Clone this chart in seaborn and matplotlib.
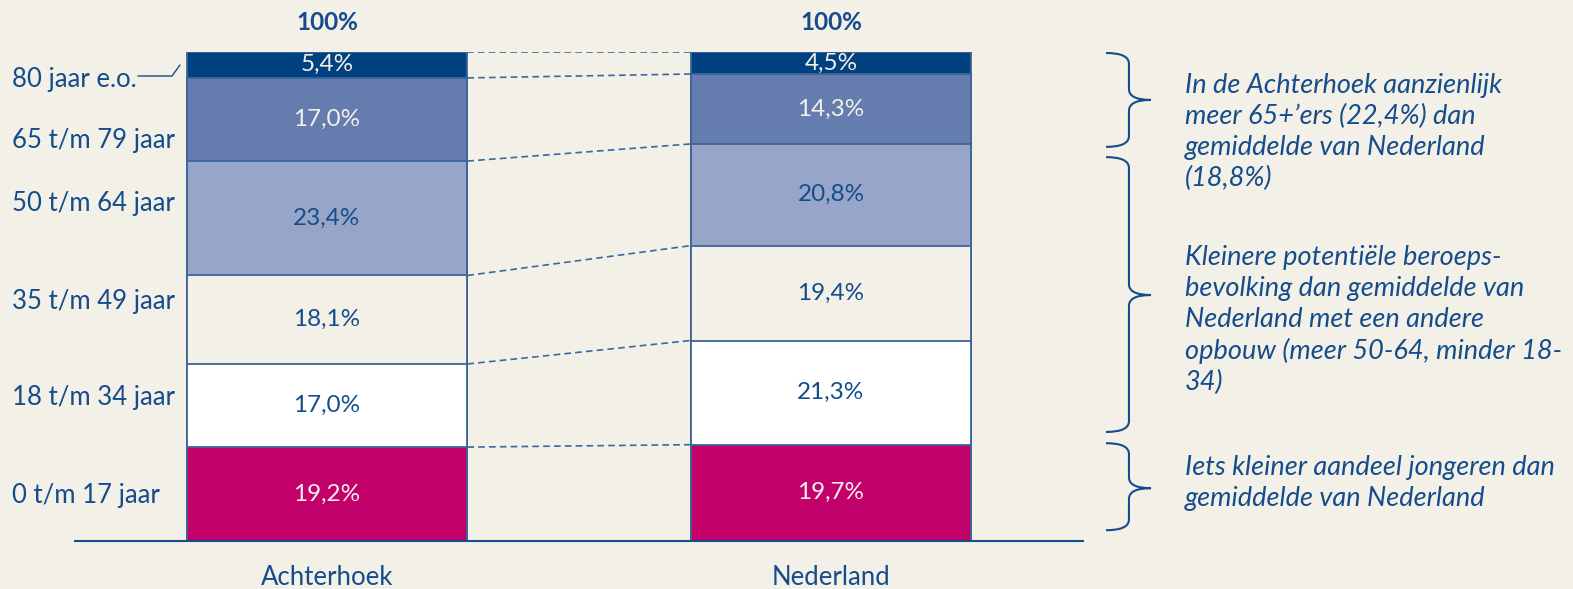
import matplotlib
matplotlib.use("Agg")
import matplotlib.pyplot as plt
import matplotlib.transforms as mtransforms
from matplotlib.path import Path
from matplotlib.patches import PathPatch
from matplotlib.lines import Line2D
import seaborn as sns

# --- data ---
regions = ["Achterhoek", "Nederland"]
age_groups = ["0 t/m 17 jaar", "18 t/m 34 jaar", "35 t/m 49 jaar",
              "50 t/m 64 jaar", "65 t/m 79 jaar", "80 jaar e.o."]
achterhoek = [19.2, 17.0, 18.1, 23.4, 17.0, 5.4]
nederland = [19.7, 21.3, 19.4, 20.8, 14.3, 4.5]
totals = ["100%", "100%"]
notes = [
    "In de Achterhoek aanzienlijk\nmeer 65+\u2019ers (22,4%) dan\ngemiddelde van Nederland\n(18,8%)",
    "Kleinere potenti\u00eble beroeps-\nbevolking dan gemiddelde van\nNederland met een andere\nopbouw (meer 50-64, minder 18-\n34)",
    "Iets kleiner aandeel jongeren dan\ngemiddelde van Nederland",
]

# --- style ---
BG = "#f3f0e8"
BLUE = "#154c8b"
EDGE = "#3d6499"
seg_colors = ["#c2006a", "#ffffff", BG, "#96a5c8", "#647dae", "#00427f"]
val_colors = ["#f8eef2", BLUE, BLUE, BLUE, "#f3f0e8", "#f3f0e8"]
FONT = ["Lato", "DejaVu Sans"]

sns.set_theme(style="white")
plt.rcParams["font.family"] = FONT

W, H = 1573, 589
fig = plt.figure(figsize=(W / 100, H / 100), dpi=100, facecolor=BG)
ax = fig.add_axes([75 / W, (H - 541) / H, 1008 / W, 489 / H])
ax.set_facecolor(BG)

bar_w = 0.557
data = {"Achterhoek": achterhoek, "Nederland": nederland}
cums = {r: [sum(v[:i + 1]) for i in range(len(v))] for r, v in data.items()}

# stacked bars: draw cumulative totals from top to bottom
for k in range(len(age_groups) - 1, -1, -1):
    sns.barplot(x=regions, y=[cums[r][k] for r in regions], color=seg_colors[k],
                saturation=1, width=bar_w, edgecolor=EDGE, linewidth=1.3, ax=ax)

# value labels
for i, r in enumerate(regions):
    vals = data[r]
    for k, v in enumerate(vals):
        yc = cums[r][k] - v / 2
        ax.text(i, yc, f"{v:.1f}".replace(".", ",") + "%", ha="center", va="center",
                fontsize=17.5, color=val_colors[k])
    ax.text(i, 106.0, totals[i], ha="center", va="center", fontsize=17.5,
            fontweight="bold", color=BLUE, clip_on=False)

# dashed connectors between bars
x0, x1 = bar_w / 2, 1 - bar_w / 2
ax.plot([x0, x1], [100, 100], ls=(0, (4, 2.5)), color="#3a68a0", lw=1.2)
for k in range(len(age_groups) - 1):
    ax.plot([x0, x1], [cums["Achterhoek"][k], cums["Nederland"][k]],
            ls=(0, (4, 2.5)), color="#3a68a0", lw=1.2)

ax.set_xlim(-0.5, 1.5)
ax.set_ylim(0, 100)
ax.set_yticks([])
ax.set_xlabel("")
ax.set_ylabel("")
ax.set_xticks([0, 1])
ax.set_xticklabels(regions, fontsize=18.5, color=BLUE)
ax.tick_params(axis="x", length=0, pad=17)
for s in ["top", "left", "right"]:
    ax.spines[s].set_visible(False)
ax.spines["bottom"].set_color(BLUE)
ax.spines["bottom"].set_linewidth(1.5)

# left category labels
blend = mtransforms.blended_transform_factory(fig.transFigure, ax.transData)
label_y = [9.4, 29.4, 48.9, 69.1, 82.0, 94.3]
for lab, y in zip(age_groups, label_y):
    fig.text(12 / W, y, lab, transform=blend, ha="left", va="center",
             fontsize=18.5, color=BLUE)

# leader line for 80 jaar e.o.
fig.add_artist(Line2D([138 / W, 172 / W, 180 / W],
                      [1 - 76 / H, 1 - 76 / H, 1 - 65 / H],
                      transform=fig.transFigure, color=BLUE, lw=1.0))

# curly braces
def brace(top, tip, bottom, xe=1.5456, xm=1.5912, xt=1.6349, r=2.2):
    verts = [(xe, top), (xm, top), (xm, top - r),
             (xm, tip + r), (xm, tip), (xt, tip),
             (xm, tip), (xm, tip - r),
             (xm, bottom + r), (xm, bottom), (xe, bottom)]
    codes = [Path.MOVETO, Path.CURVE3, Path.CURVE3,
             Path.LINETO, Path.CURVE3, Path.CURVE3,
             Path.CURVE3, Path.CURVE3,
             Path.LINETO, Path.CURVE3, Path.CURVE3]
    ax.add_patch(PathPatch(Path(verts, codes), fill=False, edgecolor=BLUE,
                           lw=1.5, clip_on=False))

brace_pos = [(99.8, 90.2, 80.6), (78.5, 50.3, 22.3), (20.0, 10.8, 2.2)]
for b in brace_pos:
    brace(*b)

note_y = [83.6, 45.2, 11.9]
for txt, y in zip(notes, note_y):
    fig.text(1185 / W, y, txt, transform=blend, ha="left", va="center",
             fontsize=19.5, color=BLUE, style="italic", linespacing=1.3)

fig.savefig("out.png", dpi=100, facecolor=BG)
